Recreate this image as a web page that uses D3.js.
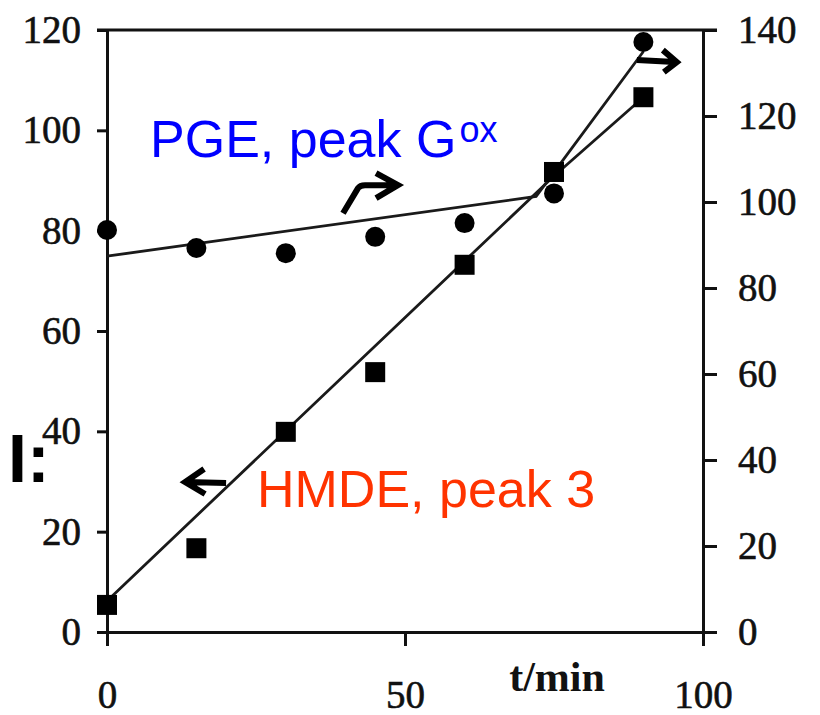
<!DOCTYPE html>
<html>
<head>
    <meta charset="utf-8">
    <script src="https://d3js.org/d3.v7.min.js"></script>
    <style>
        body { margin: 0; background: #fff; }
        .tick text { font-family: "Liberation Serif", "Times New Roman", serif; fill: #111; stroke: #111; stroke-width: 0.6; }
    </style>
</head>
<body>
<script>
    // time points (min)
    let times = [0, 15, 30, 45, 60, 75, 90];
    // HMDE, peak 3 (left axis, squares)
    let hmde = [5.4, 16.7, 39.9, 51.8, 73.2, 91.7, 106.6];
    // PGE, peak Gox (right axis, circles)
    let pge = [93.5, 89.3, 88.1, 91.9, 95.1, 102, 137.2];

    // fitted lines as drawn in the figure
    let hmdeFitT = [0, 75, 90];
    let hmdeFitV = [6.2, 90.9, 106.6];
    let pgeFitT = [0, 72, 90];
    let pgeFitV = [87.4, 101.3, 135];

    let xTicks = [0, 50, 100];
    let leftTicks = [0, 20, 40, 60, 80, 100, 120];
    let rightTicks = [0, 20, 40, 60, 80, 100, 120, 140];

    let width = 820;
    let height = 715;

    let svg = d3.select("body").append("svg")
        .attr("width", width)
        .attr("height", height);

    let x = d3.scaleLinear().domain([0, 100]).range([107, 703]);
    let yL = d3.scaleLinear().domain([0, 120]).range([632, 30]);
    let yR = d3.scaleLinear().domain([0, 140]).range([632, 30]);

    // axes
    let gl = svg.append("g")
        .attr("transform", "translate(" + x(0) + ",0)")
        .call(d3.axisLeft(yL).tickValues(leftTicks).tickSize(10).tickSizeOuter(0).tickPadding(16));
    let gr = svg.append("g")
        .attr("transform", "translate(" + x(100) + ",0)")
        .call(d3.axisRight(yR).tickValues(rightTicks).tickSize(14).tickSizeOuter(0).tickPadding(21));
    let gb = svg.append("g")
        .attr("transform", "translate(0," + yL(0) + ")")
        .call(d3.axisBottom(x).tickValues(xTicks).tickSize(14).tickSizeOuter(0).tickPadding(34));

    [gl, gr, gb].forEach(g => {
        g.select(".domain").attr("stroke", "#111").attr("stroke-width", 3);
        g.selectAll(".tick line").attr("stroke", "#111").attr("stroke-width", 3);
        g.selectAll(".tick text").attr("font-size", 39);
    });
    gb.selectAll(".tick text").attr("dy", "0.71em");

    // top frame line
    svg.append("line")
        .attr("x1", x(0) - 10).attr("x2", x(100) + 14)
        .attr("y1", yL(120)).attr("y2", yL(120))
        .attr("stroke", "#111").attr("stroke-width", 3);

    // x label
    svg.append("text")
        .attr("x", 557).attr("y", 691)
        .attr("text-anchor", "middle")
        .attr("font-family", "Liberation Serif, Times New Roman, serif")
        .attr("font-weight", "bold")
        .attr("font-size", 42)
        .attr("fill", "#111")
        .text("t/min");

    // fit lines
    let lineL = d3.line().x((d, i) => x(hmdeFitT[i])).y(d => yL(d));
    let lineR = d3.line().x((d, i) => x(pgeFitT[i])).y(d => yR(d));

    svg.append("path")
        .datum(hmdeFitV)
        .attr("d", lineL)
        .attr("fill", "none")
        .attr("stroke", "#1a1a1a")
        .attr("stroke-width", 2.8);

    svg.append("path")
        .datum(pgeFitV)
        .attr("d", lineR)
        .attr("fill", "none")
        .attr("stroke", "#1a1a1a")
        .attr("stroke-width", 2.8);

    // markers
    svg.selectAll(".sq")
        .data(hmde)
        .join("rect")
        .attr("class", "sq")
        .attr("x", (d, i) => x(times[i]) - 10)
        .attr("y", d => yL(d) - 10)
        .attr("width", 20)
        .attr("height", 20)
        .attr("fill", "#000");

    svg.selectAll(".dot")
        .data(pge)
        .join("circle")
        .attr("class", "dot")
        .attr("cx", (d, i) => x(times[i]))
        .attr("cy", d => yR(d))
        .attr("r", 10)
        .attr("fill", "#000");

    // arrows pointing to the axis each series uses
    function arrow(px, py, pathD) {
        svg.append("path")
            .attr("transform", "translate(" + px + "," + py + ")")
            .attr("d", pathD)
            .attr("fill", "none")
            .attr("stroke", "#000")
            .attr("stroke-width", 6)
            .attr("stroke-linejoin", "miter")
            .attr("stroke-linecap", "butt");
    }
    // bent arrow above the PGE line
    arrow(x(39.6), yR(97.4), "M0,0 L15,-25 Q17,-28 22,-28 L53,-28 M33,-40 L55,-28 L33,-15");
    // left arrow for HMDE
    arrow(x(12.6), yL(29.9), "M4,0 L44,1 M22,-13 L3,0 L23,12");
    // right arrow at the top
    arrow(x(88.9), yR(133), "M0,0 L38,2 M26,-10 L40,2 L27,12");

    // series labels
    svg.append("text")
        .attr("x", 150).attr("y", 157)
        .attr("font-family", "Liberation Sans, Arial, sans-serif")
        .attr("font-size", 52)
        .attr("fill", "#0000ff")
        .text("PGE, peak G")
        .append("tspan")
        .attr("dx", 3)
        .attr("dy", -15)
        .attr("font-size", 36)
        .text("ox");

    svg.append("text")
        .attr("x", 257).attr("y", 507)
        .attr("font-family", "Liberation Sans, Arial, sans-serif")
        .attr("font-size", 52)
        .attr("fill", "#ff3300")
        .text("HMDE, peak 3");

    // axis symbol at the left
    svg.append("text")
        .attr("x", 8).attr("y", 482)
        .attr("font-family", "Liberation Sans, Arial, sans-serif")
        .attr("font-weight", "bold")
        .attr("font-size", 68)
        .attr("fill", "#000")
        .text("I:");
</script>
</body>
</html>
